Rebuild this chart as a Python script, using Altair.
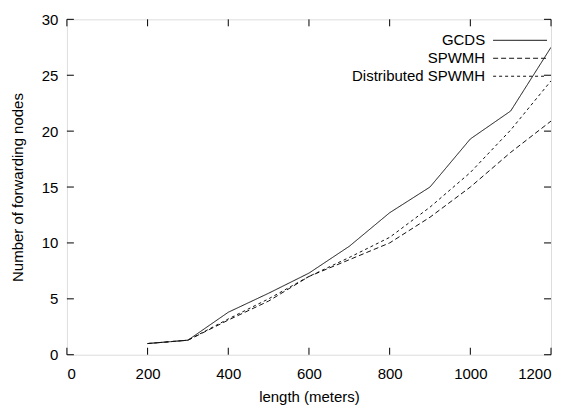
import altair as alt
import pandas as pd

lengths = [200, 300, 400, 500, 600, 700, 800, 900, 1000, 1100, 1200]
gcds = [1.0, 1.3, 3.8, 5.5, 7.3, 9.7, 12.7, 15.0, 19.3, 21.8, 27.5]
spwmh = [1.0, 1.3, 3.1, 4.8, 7.0, 8.5, 10.0, 12.3, 15.0, 18.1, 20.9]
dspwmh = [1.0, 1.3, 3.2, 5.0, 7.0, 8.7, 10.5, 13.2, 16.3, 20.1, 24.5]
series = ["GCDS", "SPWMH", "Distributed SPWMH"]
dashes = [[1, 0], [5, 3], [3, 3]]
x_ticks = [0, 200, 400, 600, 800, 1000, 1200]
y_ticks = [0, 5, 10, 15, 20, 25, 30]

FONT = "Liberation Sans"
FS = 15
W, H = 485, 336

rows = []
for name, vals in zip(series, [gcds, spwmh, dspwmh]):
    for x, y in zip(lengths, vals):
        rows.append({"length": x, "value": y, "series": name})
df = pd.DataFrame(rows)

xs = alt.Scale(domain=[0, 1200], nice=False, zero=False)
ys = alt.Scale(domain=[0, 30], nice=False, zero=False)

layers = []
for name, d in zip(series, dashes):
    layers.append(
        alt.Chart(df[df.series == name]).mark_line(color="#111", strokeWidth=1, strokeDash=d, clip=True).encode(
            x=alt.X("length:Q", scale=xs, title="length (meters)",
                    axis=alt.Axis(values=x_ticks, format="d", ticks=False, domain=False, grid=False,
                                  labelPadding=12, labelFont=FONT, labelFontSize=FS, labelColor="#000",
                                  titleFont=FONT, titleFontSize=FS, titleFontWeight="normal",
                                  titleColor="#000", titlePadding=8)),
            y=alt.Y("value:Q", scale=ys, title="Number of forwarding nodes",
                    axis=alt.Axis(values=y_ticks, ticks=False, domain=False, grid=False, labelPadding=9,
                                  labelFont=FONT, labelFontSize=FS, labelColor="#000",
                                  titleFont=FONT, titleFontSize=15, titleFontWeight="normal",
                                  titleColor="#000", titlePadding=16)),
        )
    )

# inward ticks (gnuplot style)
xt = pd.DataFrame({"t": x_ticks})
yt = pd.DataFrame({"t": y_ticks})
tick_layers = [
    alt.Chart(xt).mark_rule(color="#000", strokeWidth=1).encode(
        x=alt.X("t:Q", scale=xs), y=alt.value(H), y2=alt.value(H - 7)),
    alt.Chart(xt).mark_rule(color="#000", strokeWidth=1).encode(
        x=alt.X("t:Q", scale=xs), y=alt.value(0), y2=alt.value(7)),
    alt.Chart(yt).mark_rule(color="#000", strokeWidth=1).encode(
        y=alt.Y("t:Q", scale=ys), x=alt.value(0), x2=alt.value(7)),
    alt.Chart(yt).mark_rule(color="#000", strokeWidth=1).encode(
        y=alt.Y("t:Q", scale=ys), x=alt.value(W), x2=alt.value(W - 7)),
]

# legend
leg_layers = []
for i, (name, d) in enumerate(zip(series, dashes)):
    ly = 21 + 18 * i
    leg_layers.append(
        alt.Chart(pd.DataFrame({"label": [name]})).mark_text(
            align="right", baseline="middle", font=FONT, fontSize=FS, color="#000").encode(
            text="label:N", x=alt.value(419), y=alt.value(ly)))
    leg_layers.append(
        alt.Chart(pd.DataFrame({"label": [name]})).mark_rule(color="#111", strokeWidth=1, strokeDash=d).encode(
            x=alt.value(427), x2=alt.value(481), y=alt.value(ly)))

chart = alt.layer(*layers, *tick_layers, *leg_layers).properties(
    width=W, height=H,
    padding={"left": 59, "top": 11, "right": 10, "bottom": 51},
    autosize="none",
).configure_view(stroke="#000", strokeWidth=1).configure(background="white")

chart.save("out.html", embed_options={"renderer": "svg", "actions": False})
